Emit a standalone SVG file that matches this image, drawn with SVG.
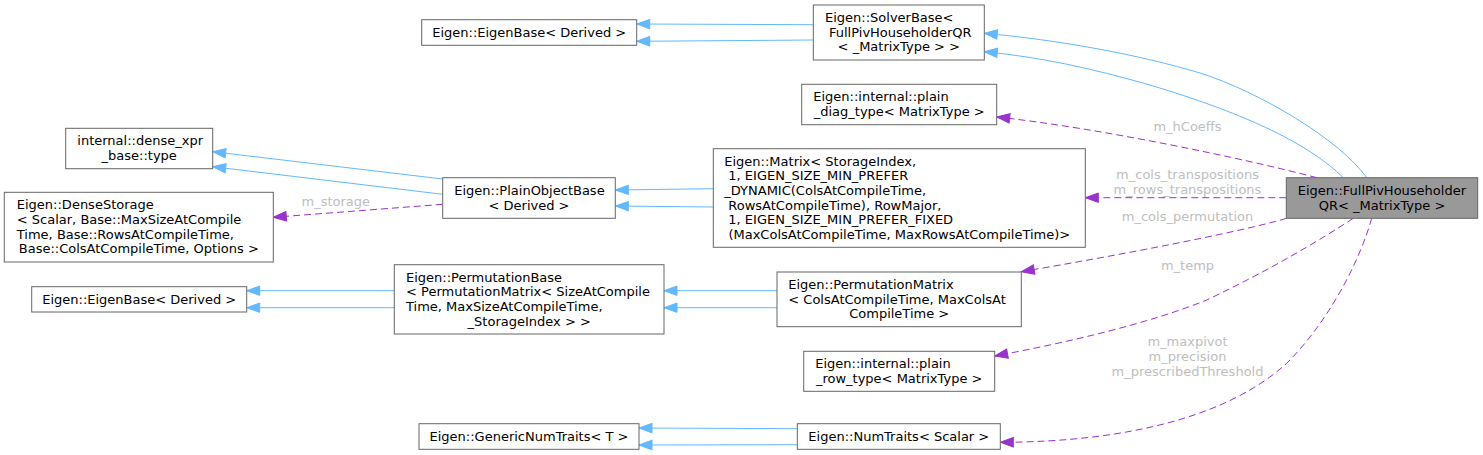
<svg xmlns="http://www.w3.org/2000/svg" width="1483" height="455" viewBox="0 0 1483 455">
<style>
.n rect{fill:#fff;stroke:#666;stroke-width:1}
.n.main rect{fill:#999}
text{font-family:"DejaVu Sans","Liberation Sans",sans-serif;font-size:13px;fill:#000}
.c{text-anchor:middle}
.lbl{fill:#bebebe;text-anchor:middle}
.inh{fill:none;stroke:#63b8ff;stroke-width:1}
.mem{fill:none;stroke:#9a32cd;stroke-width:1;stroke-dasharray:7,4}
</style>
<defs>
<marker id="ab" viewBox="-1 -6 15 12" refX="13" refY="0" markerWidth="15" markerHeight="12" markerUnits="userSpaceOnUse" orient="auto">
<path d="M0,-4.7 L13,0 L0,4.7 z" fill="#63b8ff" stroke="#63b8ff" stroke-width="1"/>
</marker>
<marker id="ap" viewBox="-1 -6 15 12" refX="13" refY="0" markerWidth="15" markerHeight="12" markerUnits="userSpaceOnUse" orient="auto">
<path d="M0,-4.7 L13,0 L0,4.7 z" fill="#9a32cd" stroke="#9a32cd" stroke-width="1"/>
</marker>
</defs>

<g id="connectors">
<path class="inh" d="M813.3,24.7 L636.7,24" marker-end="url(#ab)"/>
<path class="inh" d="M813.3,40 L636.7,41.3" marker-end="url(#ab)"/>
<path class="inh" d="M1366.7,177.7 C1340,140 1260,92 1200,73 C1140,55 1060,40 984.3,33.3" marker-end="url(#ab)"/>
<path class="inh" d="M1343.3,177.7 C1310,145 1250,115 1150,85 C1090,68 1040,57 984.3,51.7" marker-end="url(#ab)"/>
<path class="inh" d="M442.7,179 L212.7,151.7" marker-end="url(#ab)"/>
<path class="inh" d="M442.7,194.3 L212.7,166.7" marker-end="url(#ab)"/>
<path class="inh" d="M713.3,188.7 L615.3,190" marker-end="url(#ab)"/>
<path class="inh" d="M713.3,207 L615.3,206" marker-end="url(#ab)"/>
<path class="inh" d="M394.3,290.7 L246.7,290.7" marker-end="url(#ab)"/>
<path class="inh" d="M394.3,307.7 L246.7,307.7" marker-end="url(#ab)"/>
<path class="inh" d="M777,290.7 L664,290.7" marker-end="url(#ab)"/>
<path class="inh" d="M777,307.7 L664,307.7" marker-end="url(#ab)"/>
<path class="inh" d="M797.3,428.7 L639,428" marker-end="url(#ab)"/>
<path class="inh" d="M797.3,444.7 L639,445" marker-end="url(#ab)"/>

<path class="mem" d="M442.7,204.3 L273.3,217.3" marker-end="url(#ap)"/>
<path class="mem" d="M1316.7,177.7 C1250,160 1100,128 996.7,117" marker-end="url(#ap)"/>
<path class="mem" d="M1286.3,197.7 L1085.3,197.7" marker-end="url(#ap)"/>
<path class="mem" d="M1286.7,218.3 C1240,232 1120,255 1021.3,271.7" marker-end="url(#ap)"/>
<path class="mem" d="M1353.3,218.3 C1320,240 1270,270 1206.7,300 C1150,323 1070,342 994.7,356" marker-end="url(#ap)"/>
<path class="mem" d="M1371.7,218.3 C1360,260 1330,320 1286.7,363.3 C1230,415 1130,442 1000.3,442.3" marker-end="url(#ap)"/>

<text class="lbl" x="335.8" y="205.6">m_storage</text>
<text class="lbl" x="1187.5" y="130.5">m_hCoeffs</text>
<text class="lbl" x="1187.5" y="178.5">m_cols_transpositions</text>
<text class="lbl" x="1187.5" y="193.5">m_rows_transpositions</text>
<text class="lbl" x="1187.5" y="221">m_cols_permutation</text>
<text class="lbl" x="1187.5" y="270">m_temp</text>
<text class="lbl" x="1187.5" y="346">m_maxpivot</text>
<text class="lbl" x="1187.5" y="361">m_precision</text>
<text class="lbl" x="1187.5" y="376">m_prescribedThreshold</text>
</g>

<g id="node_eigenbase_top" class="n">
<rect x="421.7" y="19.7" width="215" height="25.6"/>
<text class="c" x="529.2" y="36.7">Eigen::EigenBase&lt; Derived &gt;</text>
</g>
<g id="node_solverbase" class="n">
<rect x="813.3" y="5" width="171" height="55"/>
<text x="825" y="22">Eigen::SolverBase&lt;</text>
<text x="829" y="36.7">FullPivHouseholderQR</text>
<text class="c" x="898.8" y="51.4">&lt; _MatrixType &gt; &gt;</text>
</g>
<g id="node_plain_diag" class="n">
<rect x="801.7" y="84.3" width="195" height="40.4"/>
<text x="813.3" y="101.4">Eigen::internal::plain</text>
<text class="c" x="899.2" y="116">_diag_type&lt; MatrixType &gt;</text>
</g>
<g id="node_dense_xpr" class="n">
<rect x="65.7" y="128.3" width="147" height="40.4"/>
<text x="77.3" y="145.4">internal::dense_xpr</text>
<text class="c" x="139.2" y="160">_base::type</text>
</g>
<g id="node_densestorage" class="n">
<rect x="4.3" y="192.3" width="269" height="69.7"/>
<text x="16.8" y="209.4">Eigen::DenseStorage</text>
<text x="16.8" y="224.1">&lt; Scalar, Base::MaxSizeAtCompile</text>
<text x="16.8" y="238.7">Time, Base::RowsAtCompileTime,</text>
<text class="c" x="138.8" y="253.4">Base::ColsAtCompileTime, Options &gt;</text>
</g>
<g id="node_plainobjectbase" class="n">
<rect x="442.7" y="177.7" width="172.6" height="40.6"/>
<text x="454.3" y="194.9">Eigen::PlainObjectBase</text>
<text class="c" x="529" y="209.5">&lt; Derived &gt;</text>
</g>
<g id="node_matrix" class="n">
<rect x="713.3" y="148.7" width="372" height="98.6"/>
<text x="724.3" y="165.5">Eigen::Matrix&lt; StorageIndex,</text>
<text x="728.3" y="180.2">1, EIGEN_SIZE_MIN_PREFER</text>
<text x="724.3" y="194.9">_DYNAMIC(ColsAtCompileTime,</text>
<text x="728.3" y="209.5">RowsAtCompileTime), RowMajor,</text>
<text x="728.3" y="224.2">1, EIGEN_SIZE_MIN_PREFER_FIXED</text>
<text class="c" x="899.3" y="238.9">(MaxColsAtCompileTime, MaxRowsAtCompileTime)&gt;</text>
</g>
<g id="node_eigenbase_bottom" class="n">
<rect x="31.7" y="286.7" width="215" height="25.3"/>
<text class="c" x="139.2" y="303.5">Eigen::EigenBase&lt; Derived &gt;</text>
</g>
<g id="node_permutationbase" class="n">
<rect x="394.3" y="264.7" width="269.7" height="69.3"/>
<text x="406" y="281.5">Eigen::PermutationBase</text>
<text x="406" y="296.2">&lt; PermutationMatrix&lt; SizeAtCompile</text>
<text x="406" y="310.9">Time, MaxSizeAtCompileTime,</text>
<text class="c" x="529.2" y="325.5">_StorageIndex &gt; &gt;</text>
</g>
<g id="node_permutationmatrix" class="n">
<rect x="777" y="272" width="244.3" height="54.7"/>
<text x="788.3" y="288.9">Eigen::PermutationMatrix</text>
<text x="788.3" y="303.5">&lt; ColsAtCompileTime, MaxColsAt</text>
<text class="c" x="899.2" y="318.2">CompileTime &gt;</text>
</g>
<g id="node_plain_row" class="n">
<rect x="803.7" y="351.3" width="191" height="40"/>
<text x="815.3" y="368.2">Eigen::internal::plain</text>
<text class="c" x="899.2" y="382.8">_row_type&lt; MatrixType &gt;</text>
</g>
<g id="node_genericnumtraits" class="n">
<rect x="419" y="423.7" width="220" height="25.6"/>
<text class="c" x="529" y="440.7">Eigen::GenericNumTraits&lt; T &gt;</text>
</g>
<g id="node_numtraits" class="n">
<rect x="797.3" y="423.7" width="203" height="25.6"/>
<text class="c" x="898.8" y="440.7">Eigen::NumTraits&lt; Scalar &gt;</text>
</g>
<g id="node_fullpiv" class="n main">
<rect x="1286.3" y="177.7" width="191.4" height="40.6"/>
<text x="1297.7" y="194.9">Eigen::FullPivHouseholder</text>
<text class="c" x="1382" y="209.5">QR&lt; _MatrixType &gt;</text>
</g>
</svg>
